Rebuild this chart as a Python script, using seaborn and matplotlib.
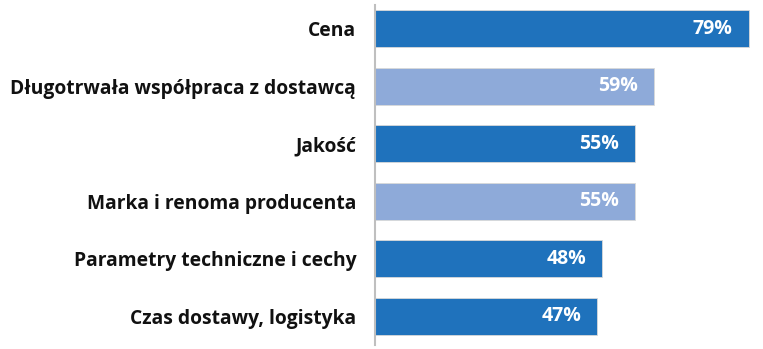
import matplotlib
matplotlib.use("Agg")
import matplotlib.pyplot as plt
import seaborn as sns
import pandas as pd

categories = ["Cena", "Długotrwała współpraca z dostawcą", "Jakość",
              "Marka i renoma producenta", "Parametry techniczne i cechy",
              "Czas dostawy, logistyka"]
values = [79, 59, 55, 55, 48, 47]
value_labels = ["79%", "59%", "55%", "55%", "48%", "47%"]
bar_colors = ["#1f72bc", "#8eaad9", "#1f72bc", "#8eaad9", "#1f72bc", "#1f72bc"]

sns.set_theme(style="white")
plt.rcParams["font.family"] = ["Open Sans", "DejaVu Sans"]

df = pd.DataFrame({"cat": categories, "val": values})

fig = plt.figure(figsize=(7.63, 3.49), dpi=100)
ax = fig.add_axes([375 / 763, 4 / 349, 388 / 763, 345 / 349])
sns.barplot(data=df, x="val", y="cat", hue="cat", palette=bar_colors,
            legend=False, width=0.64, ax=ax, saturation=1,
            edgecolor="#d9d9d9", linewidth=0.6)
ax.set_xlim(0, 82)
ax.set_ylim(5.5, -0.5)
ax.set_xlabel("")
ax.set_ylabel("")
ax.set_xticks([])
for s in ["top", "right", "bottom"]:
    ax.spines[s].set_visible(False)
ax.spines["left"].set_color("#bfbfbf")
ax.spines["left"].set_linewidth(1.5)
ax.spines["left"].set_bounds(-0.42, 5.5)
ax.tick_params(axis="y", length=0, pad=13.5)
for lab in ax.get_yticklabels():
    lab.set_fontweight("bold")
    lab.set_fontsize(13.85)
    lab.set_color("#111111")

for i, (v, t) in enumerate(zip(values, value_labels)):
    ax.annotate(t, xy=(v, i), xytext=(-11.5, 0), textcoords="offset points",
                ha="right", va="center", color="white", fontweight="bold",
                fontsize=14)

fig.savefig("out.png", dpi=100)
